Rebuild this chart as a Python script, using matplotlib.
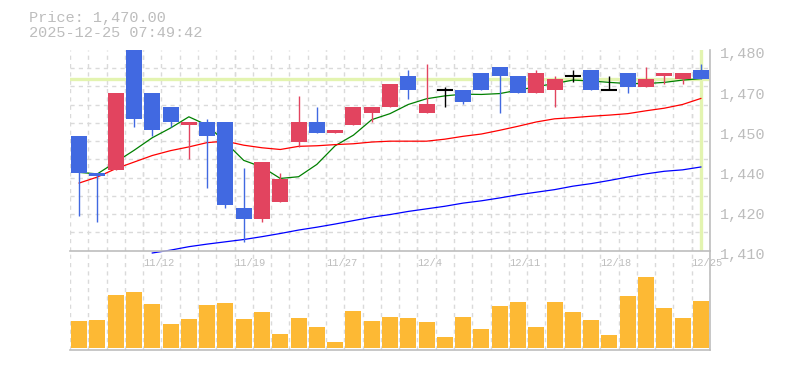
import matplotlib
matplotlib.use('Agg')
import matplotlib.pyplot as plt
import numpy as np
from matplotlib.transforms import ScaledTranslation

# ================= data =================
dates = ['11/6', '11/7', '11/10', '11/11', '11/12', '11/13', '11/14', '11/17', '11/18',
         '11/19', '11/20', '11/21', '11/25', '11/26', '11/27', '11/28', '12/1', '12/2',
         '12/3', '12/4', '12/5', '12/8', '12/9', '12/10', '12/11', '12/12', '12/15',
         '12/16', '12/17', '12/18', '12/19', '12/22', '12/23', '12/24', '12/25']

opens = [1450, 1437, 1438, 1480, 1465, 1460, 1454, 1455, 1455, 1425, 1421, 1427,
         1448, 1455, 1451, 1454, 1458, 1460, 1471, 1458, 1466, 1466, 1472, 1474,
         1471, 1465, 1466, 1471, 1473, 1466, 1472, 1467, 1471, 1470, 1473]
highs = [1450, 1437, 1465, 1480, 1465, 1460, 1455, 1456, 1455, 1439, 1441, 1437,
         1464, 1460, 1452, 1460, 1460, 1468, 1473, 1475, 1467, 1466, 1472, 1474,
         1471, 1473, 1471, 1473, 1473, 1471, 1472, 1474, 1472, 1472, 1475]
lows = [1422, 1420, 1438, 1453, 1450, 1453, 1442, 1432, 1425, 1413, 1420, 1427,
        1446, 1451, 1451, 1454, 1455, 1460, 1463, 1458, 1460, 1461, 1466, 1458,
        1465, 1465, 1460, 1469, 1466, 1466, 1465, 1467, 1468, 1468, 1470]
closes = [1437, 1436, 1465, 1456, 1452, 1455, 1455, 1450, 1426, 1421, 1441, 1435,
          1455, 1451, 1452, 1460, 1460, 1468, 1466, 1461, 1466, 1462, 1466, 1471,
          1465, 1472, 1470, 1471, 1466, 1466, 1467, 1470, 1472, 1472, 1470]

# moving averages as drawn (5 / 25 / 75 days)
ma5 = [1437.3, 1436.8, 1440.9, 1445.0, 1449.4, 1452.8, 1456.7, 1453.8, 1447.8, 1441.5,
       1439.2, 1435.2, 1435.8, 1440.1, 1446.6, 1450.3, 1455.7, 1457.8, 1461.0, 1463.0,
       1464.0, 1464.6, 1464.5, 1464.8, 1466.0, 1467.2, 1468.3, 1469.5, 1469.2, 1468.7,
       1468.3, 1468.3, 1468.7, 1469.5, 1470.0]
ma25 = [1433.6, 1435.7, 1438.6, 1440.9, 1443.2, 1444.9, 1446.2, 1447.7, 1448.2, 1446.8,
        1445.9, 1445.3, 1446.4, 1446.6, 1447.0, 1447.3, 1447.9, 1448.2, 1448.2, 1448.2,
        1448.9, 1449.9, 1450.7, 1452.0, 1453.4, 1454.9, 1456.0, 1456.4, 1456.9, 1457.3,
        1457.8, 1458.8, 1459.7, 1461.0, 1463.1]
ma75_start = 4
ma75 = [1409.2, 1410.2, 1411.4, 1412.3, 1413.1, 1413.9, 1414.9, 1416.0, 1417.2, 1418.2,
        1419.3, 1420.5, 1421.7, 1422.6, 1423.7, 1424.6, 1425.5, 1426.6, 1427.4, 1428.4,
        1429.5, 1430.4, 1431.3, 1432.5, 1433.4, 1434.5, 1435.7, 1436.8, 1437.7, 1438.2,
        1439.2]

volumes = [270, 280, 530, 560, 440, 240, 290, 430, 450, 290, 360, 140, 300, 210, 60,
           370, 270, 310, 300, 260, 110, 310, 190, 420, 460, 210, 460, 360, 280, 130,
           520, 710, 400, 300, 470]

ytick_vals = [1480, 1466, 1452, 1438, 1424, 1410]
ytick_labels = ['1,480', '1,470', '1,450', '1,440', '1,420', '1,410']
timestamp = '2025-12-25 07:49:42'
# ========================================

UP = '#e2445f'
DOWN = '#4169e1'
VOL = '#fdb934'
GRID = '#dadada'
AXIS = '#bdbdbd'
TEXT = '#bdbdbd'
CROSS = '#e3f4b0'

plt.rcParams['font.family'] = ['Liberation Mono', 'DejaVu Sans Mono']

fig = plt.figure(figsize=(7.85, 3.70), dpi=100)
ax = fig.add_axes([70 / 785, 1 - 250.7 / 370, 640 / 785, 200.7 / 370])
axv = fig.add_axes([70 / 785, 1 - 349.5 / 370, 640 / 785, 98.8 / 370])

n = len(closes)
x = np.arange(n)
o = np.array(opens)
c = np.array(closes)
hi = np.array(highs)
lo = np.array(lows)

# candles: red = up, blue = down, black = unchanged
w = 0.87
up = c > o
down = c < o
doji = c == o
body_lo = np.minimum(o, c)
body_h = np.abs(c - o)
ax.vlines(x[up], lo[up], hi[up], color=UP, lw=1, zorder=3)
ax.vlines(x[down], lo[down], hi[down], color=DOWN, lw=1, zorder=3)
ax.bar(x[up], body_h[up], bottom=body_lo[up], width=w, color=UP, zorder=4)
ax.bar(x[down], body_h[down], bottom=body_lo[down], width=w, color=DOWN, zorder=4)
ax.vlines(x[doji], lo[doji], hi[doji], color='black', lw=1, zorder=3)
ax.hlines(c[doji], x[doji] - w / 2, x[doji] + w / 2, color='black', lw=1.5, zorder=4)

# moving averages
ax.plot(x, ma5, color='green', lw=0.9, zorder=2)
ax.plot(x, ma25, color='red', lw=0.9, zorder=2)
ax.plot(x[ma75_start:], ma75, color='blue', lw=0.9, zorder=2, clip_on=False)

# crosshair on last price
ax.axhline(closes[-1], color=CROSS, lw=2.4, zorder=1.5)
ax.axvline(x[-1], color=CROSS, lw=2.4, zorder=1.5)

ax.set_xlim(-0.5, n - 0.5)
ax.set_ylim(1410, 1480)

# grid: vertical at slot boundaries, horizontal 11 divisions
label_idx = list(range(4, n, 5))
ax.set_xticks([i - 0.5 for i in label_idx])
ax.set_xticklabels([dates[i] for i in label_idx], ha='left', fontsize=7.5, color=TEXT)
ax.set_xticks(np.arange(n + 1) - 0.5, minor=True)
ax.xaxis.remove_overlapping_locs = False
ax.set_yticks(ytick_vals)
ax.set_yticklabels(ytick_labels, fontsize=11, color=TEXT)
ax.set_yticks(np.linspace(1410, 1480, 12), minor=True)
ax.yaxis.tick_right()
ax.tick_params(which='both', length=0)
ax.tick_params(axis='x', pad=5)
ax.tick_params(axis='y', pad=7)
ax.xaxis.grid(True, which='both', color=GRID, lw=1, ls=(0, (3, 3)))
ax.yaxis.grid(True, which='minor', color=GRID, lw=1, ls=(0, (3, 3)))
ax.yaxis.grid(False, which='major')
ax.set_axisbelow(True)
for lab in ax.get_yticklabels():
    lab.set_transform(lab.get_transform() + ScaledTranslation(0, -0.03, fig.dpi_scale_trans))

for s in ['top', 'left']:
    ax.spines[s].set_visible(False)
for s in ['bottom', 'right']:
    ax.spines[s].set_color(AXIS)
    ax.spines[s].set_linewidth(1.2)

# volume panel
axv.patch.set_visible(False)
axv.bar(x, volumes, width=w, color=VOL, zorder=2)
axv.set_xlim(-0.5, n - 0.5)
axv.set_ylim(-20, 968)
axv.set_xticks(np.arange(n + 1) - 0.5)
axv.set_xticklabels([])
axv.set_yticks([])
axv.tick_params(length=0)
axv.xaxis.grid(True, color=GRID, lw=1, ls=(0, (3, 3)))
axv.set_axisbelow(True)
for s in ['top', 'left']:
    axv.spines[s].set_visible(False)
for s in ['bottom', 'right']:
    axv.spines[s].set_color(AXIS)
    axv.spines[s].set_linewidth(1.2)

# header
fig.text(29 / 785, 1 - 17.7 / 370, f'Price: {closes[-1]:,.2f}', fontsize=11, color=TEXT, va='center')
fig.text(29 / 785, 1 - 33.3 / 370, timestamp, fontsize=11, color=TEXT, va='center')

fig.savefig('out.png', dpi=100)
